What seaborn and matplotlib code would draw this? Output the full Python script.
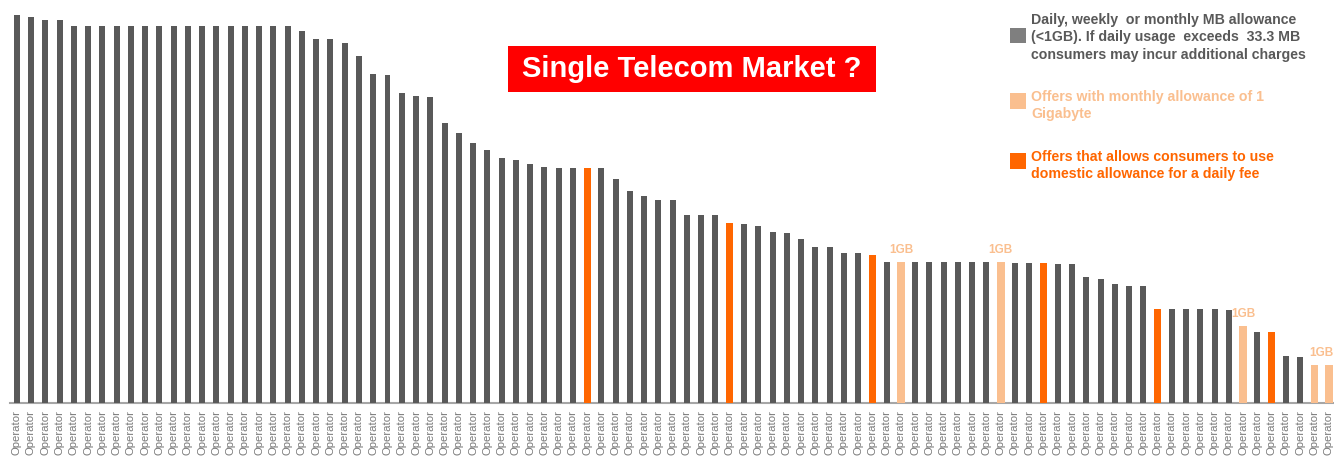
import matplotlib
matplotlib.use("Agg")
import matplotlib.pyplot as plt
from matplotlib.patches import Rectangle
import seaborn as sns
import pandas as pd
import numpy as np

# ---- data (relative allowance level) ----
operators = ["Operator"] * 93
values = [387.6, 385.6, 383.3, 383.3] + [377.0] * 16 + [
    372.3, 363.6, 363.6, 360.3, 347.3, 328.6, 327.6, 310.0, 307.0, 306.0, 279.6,
    270.0, 260.0, 253.3, 244.6, 243.3, 239.3, 236.0, 234.6, 234.6, 235.3, 234.6,
    224.0, 212.0, 207.3, 203.0, 203.0, 187.6, 187.6, 187.6, 180.3, 179.0, 177.0,
    171.3, 170.3, 164.0, 156.0, 156.0, 149.6, 149.6, 148.3, 140.6,
    141.3] + [140.6] * 6 + [
    141.3, 139.6, 139.6, 140.3, 138.6, 138.6,
    125.6, 124.3, 119.0, 117.0, 117.0, 94.3, 94.0, 94.0, 94.0, 94.0, 93.0,
    77.3, 71.0, 70.6, 47.0, 46.0, 38.3, 38.3]
daily_fee_idx = [41, 51, 61, 73, 81, 89]          # 1-based positions
one_gb_idx = [63, 70, 87, 92, 93]                 # 1-based positions
gb_label_pos = [63, 70, 87, 92.5]                 # where the "1GB" notes sit

legend_labels = [
    "Daily, weekly  or monthly MB allowance\n(<1GB). If daily usage  exceeds  33.3 MB\nconsumers may incur additional charges",
    "Offers with monthly allowance of 1\nGigabyte",
    "Offers that allows consumers to use\ndomestic allowance for a daily fee",
]
title = "Single Telecom Market ?"

# ---- styling ----
C_GRAY = "#595959"
C_LIGHT = "#FABF8F"
C_ORANGE = "#FF6600"
C_LEG_GRAY = "#7F7F7F"

cats = []
for i in range(1, 94):
    if i in daily_fee_idx:
        cats.append("daily")
    elif i in one_gb_idx:
        cats.append("gb")
    else:
        cats.append("mb")

df = pd.DataFrame({"pos": np.arange(93), "value": values, "cat": cats})

sns.set_theme(style="white")
plt.rcParams["font.family"] = ["Liberation Sans", "DejaVu Sans"]

W, H = 1334, 459
fig = plt.figure(figsize=(W / 100, H / 100), dpi=100)
left_px, right_px, base_px = 9.6, 1334.4, 403.0
ax = fig.add_axes([left_px / W, (H - base_px) / H, (right_px - left_px) / W, base_px / H])

palette = {"mb": C_GRAY, "gb": C_LIGHT, "daily": C_ORANGE}
sns.barplot(data=df, x="pos", y="value", hue="cat", palette=palette,
            native_scale=True, dodge=False, legend=False, width=0.42,
            saturation=1, ax=ax)

# widen the highlighted bars a little, keeping their centres
widths = {C_ORANGE: 0.48, C_LIGHT: 0.54}
for p in ax.patches:
    fc = matplotlib.colors.to_hex(p.get_facecolor())
    for col, w in widths.items():
        if fc.lower() == col.lower():
            cx = p.get_x() + p.get_width() / 2
            p.set_width(w)
            p.set_x(cx - w / 2)
    p.set_edgecolor("none")

ax.set_xlim(-0.5, 92.4)
ax.set_ylim(0, 403)
ax.set_xlabel("")
ax.set_ylabel("")
ax.set_yticks([])
ax.set_xticks(np.arange(93))
ax.set_xticklabels(operators, rotation=90, fontsize=8.2, color="#7A7A7A")
ax.tick_params(axis="x", length=0, pad=5)
for s in ["top", "right", "left"]:
    ax.spines[s].set_visible(False)
ax.spines["bottom"].set_color("#A6A6A6")
ax.spines["bottom"].set_linewidth(1.5)
ax.spines["bottom"].set_zorder(0)

# "1GB" notes
for xp in gb_label_pos:
    i = int(round(xp - 0.01)) - 1
    yv = values[i]
    ax.text(xp - 1, yv + 6, "1GB", ha="center", va="bottom", fontsize=8.5,
            fontweight="bold", color=C_LIGHT)

# title box
bx0, by0, bx1, by1 = 508, 46, 876, 92
fig.patches.append(Rectangle((bx0 / W, 1 - by1 / H), (bx1 - bx0) / W, (by1 - by0) / H,
                             transform=fig.transFigure, facecolor="#FF0000",
                             edgecolor="none", zorder=3))
fig.text((bx0 + bx1) / 2 / W, 1 - 69 / H, title, ha="center", va="center",
         color="white", fontsize=21, fontweight="bold", zorder=4)

# legend
leg = [
    (C_LEG_GRAY, C_GRAY, 27.5, 37.3),
    (C_LIGHT, C_LIGHT, 93, 105.7),
    (C_ORANGE, C_ORANGE, 153, 165.7),
]
for (sq, tc, sy, ty), lab in zip(leg, legend_labels):
    fig.patches.append(Rectangle((1009.5 / W, 1 - (sy + 15.5) / H), 16 / W, 15.5 / H,
                                 transform=fig.transFigure, facecolor=sq,
                                 edgecolor="none"))
    fig.text(1031 / W, 1 - ty / H, lab, ha="left", va="center", fontsize=10.2,
             fontweight="bold", color=tc, linespacing=1.3)

fig.savefig("out.png", dpi=100)
